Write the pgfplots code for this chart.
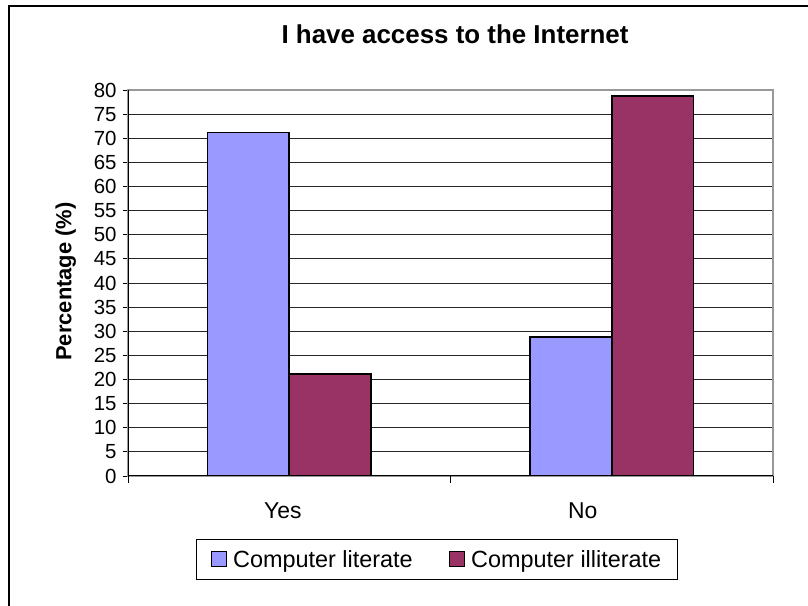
\documentclass[border=0pt]{standalone}
\usepackage{fontspec}
\setmainfont{Liberation Sans}
\usepackage{pgfplots}
\pgfplotsset{compat=1.18}

\definecolor{literate}{HTML}{9999FF}
\definecolor{illiterate}{HTML}{993366}
\definecolor{plotborder}{HTML}{999999}

\begin{document}
\begin{tikzpicture}
\useasboundingbox (0,0) rectangle (808bp,606bp);
% chart frame
\draw[line width=1.6bp] (9bp,-20bp) |- (830bp,600bp);

\begin{axis}[
  at={(128bp,130bp)}, anchor=south west,
  scale only axis,
  width=645bp, height=386bp,
  xmin=-0.5, xmax=1.5,
  ymin=0, ymax=80,
  ytick={0,5,...,80},
  ymajorgrids,
  grid style={black!85, line width=0.9bp},
  axis line style={plotborder, line width=1.4bp},
  xtick={-0.02,0.91},
  xticklabels={Yes,No},
  major tick length=5bp,
  xtick style={draw=none},
  extra x ticks={-0.5,0.5,1.5},
  extra x tick labels={},
  extra x tick style={major tick length=7bp, xtick style={draw=black, line width=0.9bp}, grid=none},
  xtick pos=bottom, ytick pos=left,
  tick align=outside,
  ytick style={black, line width=0.9bp},
  /pgf/number format/assume math mode=true,
  yticklabel style={font=\fontsize{20.5}{22}\selectfont, xshift=-3bp},
  xticklabel style={font=\fontsize{23}{26}\selectfont, yshift=-18bp},
  ylabel={Percentage (\%)},
  ylabel style={font=\bfseries\fontsize{22}{24}\selectfont, at={(axis description cs:-0.0966,0.504)}, anchor=center},
  title={I have access to the Internet},
  title style={font=\bfseries\fontsize{26}{28}\selectfont, at={(axis description cs:0.507,1.13)}, anchor=center},
  bar width=0.254,
  legend columns=2,
  legend style={at={(axis description cs:0.479,-0.216)}, anchor=center,
    draw=black, line width=1bp, font=\fontsize{23.5}{26}\selectfont,
    inner xsep=14bp, inner ysep=9bp,
    /tikz/every odd column/.append style={column sep=4bp},
    /tikz/every even column/.append style={column sep=34bp}},
  legend image code/.code={%
    \draw[#1, draw=black, line width=1.5bp] (0bp,-7bp) rectangle (15bp,8bp);},
]
\addplot[ybar, bar shift=-0.127, fill=literate, draw=black, line width=1.6bp]
  coordinates {(0,71.2) (1,28.8)};
\addplot[ybar, bar shift=0.127, fill=illiterate, draw=black, line width=1.6bp]
  coordinates {(0,21.2) (1,78.8)};
\legend{Computer literate, Computer illiterate}
% black left and bottom axis lines over the grey plot border
\draw[black, line width=1.4bp] (rel axis cs:0,1) -- (rel axis cs:0,0) -- (rel axis cs:1,0);
\end{axis}
\end{tikzpicture}
\end{document}
